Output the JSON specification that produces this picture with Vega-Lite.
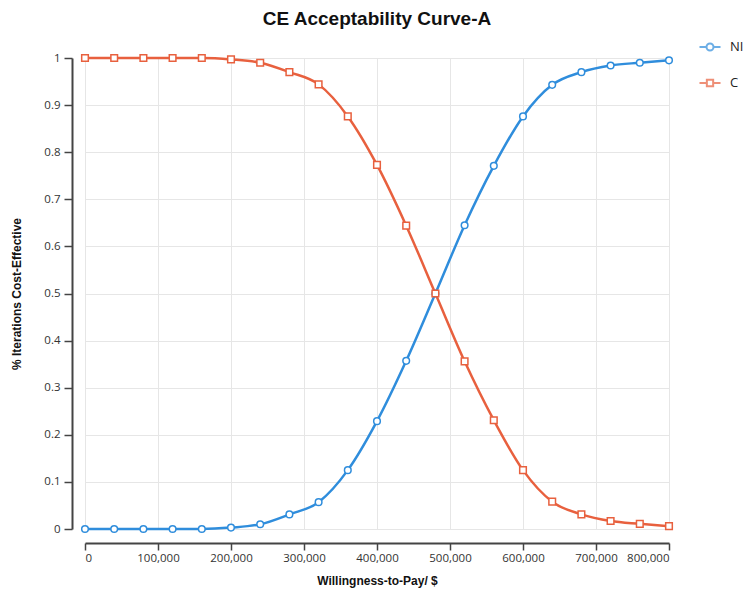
{
  "$schema": "https://vega.github.io/schema/vega-lite/v6.json",
  "width": 584,
  "height": 471,
  "autosize": {"type": "none"},
  "padding": {"left": 85, "top": 58, "right": 79, "bottom": 66},
  "background": "white",
  "title": {
    "text": "CE Acceptability Curve-A",
    "font": "Liberation Sans",
    "fontSize": 19,
    "fontWeight": "bold",
    "color": "#111111",
    "anchor": "middle",
    "offset": 10
  },
  "data": {
    "values": [
      {"wtp": 0, "series": "NI", "p": 0.0},
      {"wtp": 40000, "series": "NI", "p": 0.0},
      {"wtp": 80000, "series": "NI", "p": 0.0},
      {"wtp": 120000, "series": "NI", "p": 0.0},
      {"wtp": 160000, "series": "NI", "p": 0.0},
      {"wtp": 200000, "series": "NI", "p": 0.003},
      {"wtp": 240000, "series": "NI", "p": 0.01},
      {"wtp": 280000, "series": "NI", "p": 0.031},
      {"wtp": 320000, "series": "NI", "p": 0.057},
      {"wtp": 360000, "series": "NI", "p": 0.125},
      {"wtp": 400000, "series": "NI", "p": 0.229},
      {"wtp": 440000, "series": "NI", "p": 0.357},
      {"wtp": 480000, "series": "NI", "p": 0.5},
      {"wtp": 520000, "series": "NI", "p": 0.645},
      {"wtp": 560000, "series": "NI", "p": 0.771},
      {"wtp": 600000, "series": "NI", "p": 0.876},
      {"wtp": 640000, "series": "NI", "p": 0.943},
      {"wtp": 680000, "series": "NI", "p": 0.97},
      {"wtp": 720000, "series": "NI", "p": 0.984},
      {"wtp": 760000, "series": "NI", "p": 0.99},
      {"wtp": 800000, "series": "NI", "p": 0.995},
      {"wtp": 0, "series": "C", "p": 1.0},
      {"wtp": 40000, "series": "C", "p": 1.0},
      {"wtp": 80000, "series": "C", "p": 1.0},
      {"wtp": 120000, "series": "C", "p": 1.0},
      {"wtp": 160000, "series": "C", "p": 1.0},
      {"wtp": 200000, "series": "C", "p": 0.997},
      {"wtp": 240000, "series": "C", "p": 0.99},
      {"wtp": 280000, "series": "C", "p": 0.97},
      {"wtp": 320000, "series": "C", "p": 0.944},
      {"wtp": 360000, "series": "C", "p": 0.876},
      {"wtp": 400000, "series": "C", "p": 0.773},
      {"wtp": 440000, "series": "C", "p": 0.644},
      {"wtp": 480000, "series": "C", "p": 0.5},
      {"wtp": 520000, "series": "C", "p": 0.356},
      {"wtp": 560000, "series": "C", "p": 0.231},
      {"wtp": 600000, "series": "C", "p": 0.125},
      {"wtp": 640000, "series": "C", "p": 0.058},
      {"wtp": 680000, "series": "C", "p": 0.031},
      {"wtp": 720000, "series": "C", "p": 0.017},
      {"wtp": 760000, "series": "C", "p": 0.011},
      {"wtp": 800000, "series": "C", "p": 0.006}
    ]
  },
  "encoding": {
    "x": {
      "field": "wtp",
      "type": "quantitative",
      "scale": {"domain": [0, 800000], "nice": false, "zero": false},
      "axis": {
        "title": "Willingness-to-Pay/ $",
        "values": [0, 100000, 200000, 300000, 400000, 500000, 600000, 700000, 800000],
        "format": ",d",
        "offset": 14,
        "domainColor": "#444444",
        "domainWidth": 2,
        "tickColor": "#444444",
        "tickWidth": 1.5,
        "tickSize": 7,
        "labelFont": "Open Sans",
        "labelFontSize": 11.5,
        "labelColor": "#333333",
        "labelPadding": 2,
        "titleFont": "Liberation Sans",
        "titleFontSize": 12,
        "titleFontWeight": "bold",
        "titleColor": "#111111",
        "titlePadding": 12,
        "gridColor": "#e6e6e6",
        "gridWidth": 1
      }
    },
    "y": {
      "field": "p",
      "type": "quantitative",
      "scale": {"domain": [0, 1], "nice": false},
      "axis": {
        "title": "% Iterations Cost-Effective",
        "values": [0, 0.1, 0.2, 0.3, 0.4, 0.5, 0.6, 0.7, 0.8, 0.9, 1],
        "format": ".1~f",
        "offset": 13,
        "domainColor": "#444444",
        "domainWidth": 2,
        "tickColor": "#444444",
        "tickWidth": 1.5,
        "tickSize": 8,
        "labelFont": "Open Sans",
        "labelFontSize": 11.5,
        "labelColor": "#333333",
        "labelPadding": 4,
        "titleFont": "Liberation Sans",
        "titleFontSize": 12,
        "titleFontWeight": "bold",
        "titleColor": "#111111",
        "titlePadding": 20,
        "gridColor": "#e6e6e6",
        "gridWidth": 1
      }
    }
  },
  "layer": [
    {
      "mark": {"type": "line", "interpolate": "monotone", "strokeWidth": 2.5},
      "encoding": {
        "color": {
          "field": "series",
          "type": "nominal",
          "scale": {"domain": ["NI", "C"], "range": ["#2f8ddc", "#e8603e"]},
          "legend": null
        }
      }
    },
    {
      "mark": {"type": "point", "filled": true, "fill": "white", "strokeWidth": 1.5, "size": 44, "opacity": 1},
      "encoding": {
        "stroke": {
          "field": "series",
          "type": "nominal",
          "scale": {"domain": ["NI", "C"], "range": ["#2f8ddc", "#e8603e"]},
          "legend": null
        },
        "shape": {
          "field": "series",
          "type": "nominal",
          "scale": {"domain": ["NI", "C"], "range": ["circle", "square"]},
          "legend": null
        }
      }
    },
    {
      "transform": [{"filter": "datum.wtp < 0"}],
      "mark": {"type": "point", "filled": true, "fill": "white", "strokeWidth": 2, "size": 196},
      "encoding": {
        "stroke": {
          "field": "series",
          "type": "nominal",
          "scale": {"domain": ["NI", "C"], "range": ["#2f8ddc", "#e8603e"]},
          "legend": {
            "orient": "none",
            "legendX": 617,
            "legendY": -19,
            "title": null,
            "labelFont": "Open Sans",
            "labelFontSize": 13,
            "labelColor": "#222222",
            "labelOffset": 12,
            "rowPadding": 20,
            "symbolSize": 196,
            "symbolStrokeWidth": 2
          }
        },
        "shape": {
          "field": "series",
          "type": "nominal",
          "scale": {
            "domain": ["NI", "C"],
            "range": [
              "M-1.5,0H-0.5M0.5,0H1.5M-0.5,0A0.5,0.5,0,1,1,0.5,0A0.5,0.5,0,1,1,-0.5,0Z",
              "M-1.5,0H-0.45M0.45,0H1.5M-0.45,-0.45H0.45V0.45H-0.45Z"
            ]
          }
        }
      }
    }
  ],
  "resolve": {"scale": {"shape": "independent", "stroke": "independent"}},
  "config": {
    "view": {"stroke": null},
    "axis": {"gridColor": "#e6e6e6"}
  }
}
